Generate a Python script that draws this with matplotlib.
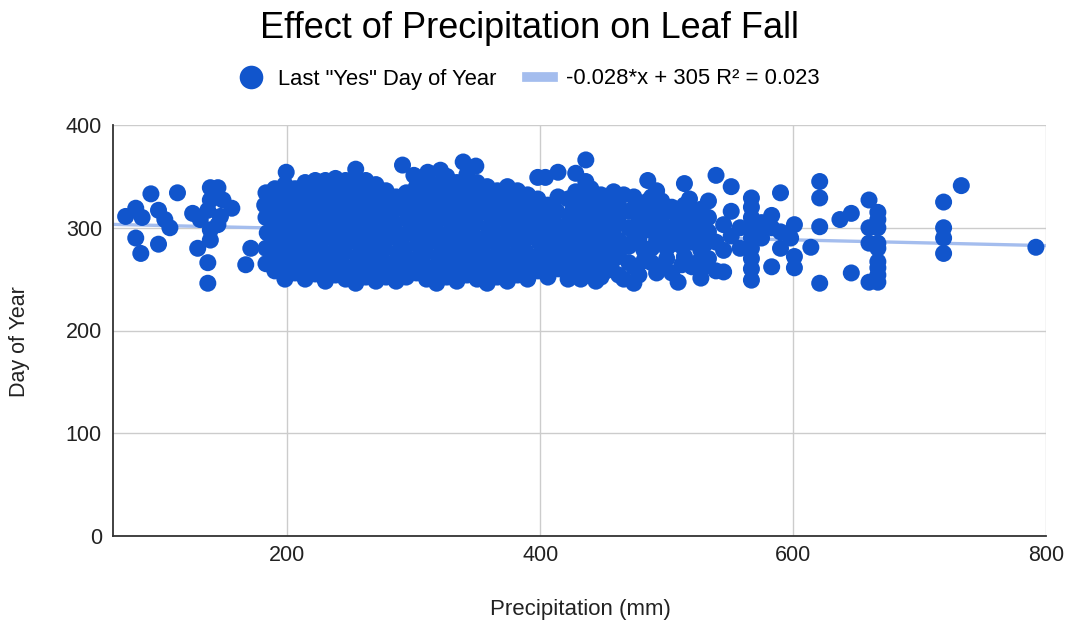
import matplotlib.pyplot as plt
from matplotlib.lines import Line2D

plt.rcParams['font.family'] = ['Liberation Sans', 'DejaVu Sans']

# precipitation (mm) and last "yes" day of year
precip = [
    72, 80, 85, 92, 80, 84, 98, 103, 107, 98, 113,
    125, 139, 145, 156, 137, 131, 139, 145, 139, 129, 137, 137, 167, 171, 139, 149, 147,
    183, 183, 184, 183, 182, 183,
    190, 190, 191, 190, 189, 190, 190,
    198, 198, 197, 198, 198, 199, 198, 198,
    199,
    206, 206, 207, 206, 205, 206, 206,
    214, 214, 213, 214, 214, 215, 214, 214,
    222, 222, 223, 222, 221, 222, 222, 222,
    230, 230, 229, 230, 231, 230, 230, 230,
    238, 238, 239, 238, 237, 238, 238, 238,
    246, 246, 245, 246, 247, 246, 246, 246,
    254, 254, 255, 254, 253, 254, 254, 254, 254,
    262, 262, 261, 262, 263, 262, 262, 262,
    270, 270, 271, 270, 269, 270, 270, 270,
    278, 278, 277, 278, 279, 278, 278,
    286, 286, 287, 286, 285, 286, 286,
    291,
    294, 294, 293, 294, 295, 294, 294,
    300,
    302, 302, 303, 302, 301, 302, 302,
    310, 310, 309, 310, 311, 310, 310, 310,
    311,
    318, 318, 319, 318, 317, 318, 318, 318,
    321,
    326, 326, 325, 326, 327, 326, 326, 326,
    334, 334, 335, 334, 333, 334, 334, 334,
    339,
    342, 342, 341, 342, 343, 342, 342, 342,
    349,
    350, 350, 351, 350, 349, 350, 350, 350,
    358, 358, 357, 358, 359, 358, 358, 358,
    366, 366, 367, 366, 365, 366, 366,
    374, 374, 373, 374, 375, 374, 374, 374,
    382, 382, 383, 382, 381, 382, 382,
    390, 390, 389, 390, 391, 390, 390,
    398, 398, 399, 398, 397, 398, 398,
    404,
    406, 406, 405, 406, 407, 406,
    414, 414, 415, 414, 413, 414, 414,
    422, 422, 421, 422, 423, 422,
    426, 426, 426, 426, 426,
    428, 428,
    432, 432, 432, 432, 432, 432,
    436, 436, 436, 435, 436, 437, 436,
    440, 440, 440, 440, 440, 440,
    444, 444, 443, 444, 445,
    448, 448, 448, 448, 448, 448,
    452, 452, 453, 452, 451,
    456, 456, 456, 456, 456,
    458, 458, 458,
    462, 462, 462, 462, 462,
    466, 466, 466, 466,
    470, 470, 470, 470,
    474, 474, 474, 474,
    478, 478, 478, 478,
    482, 482, 482,
    485, 485, 485,
    488, 488, 488, 488,
    492, 492, 492, 492, 492,
    496, 496, 496, 496,
    500, 500, 500, 500,
    504, 504, 504, 504,
    509, 509, 509,
    512, 512, 512,
    514, 514, 514, 514,
    518, 518, 518,
    520, 520, 520,
    524, 524, 524,
    527, 527, 527,
    530, 530, 530,
    533, 533, 533, 533,
    539, 539, 539,
    545, 545, 545,
    551, 551, 551,
    558, 558,
    567, 567, 567, 567, 567, 567, 567, 567, 567,
    575, 575,
    583, 583, 583,
    590, 590, 590,
    598,
    601, 601, 601,
    614,
    621, 621, 621, 621,
    637,
    646, 646,
    660, 660, 660, 660,
    667, 667, 667, 667, 667, 667, 667, 667, 667,
    719, 719, 719, 719,
    733,
    792,
]
last_day = [
    311, 319, 310, 333, 290, 275, 317, 308, 300, 284, 334,
    314, 339, 339, 319, 317, 308, 298, 303, 288, 280, 266, 246, 264, 280, 327, 327, 311,
    265, 280, 295, 310, 322, 334,
    258, 270, 284, 298, 312, 326, 338,
    250, 262, 276, 290, 304, 318, 332, 342,
    354,
    256, 268, 282, 296, 310, 324, 338,
    250, 262, 276, 290, 304, 318, 332, 344,
    255, 268, 282, 296, 310, 324, 338, 346,
    248, 262, 276, 290, 304, 318, 332, 346,
    254, 268, 282, 296, 310, 324, 338, 348,
    250, 262, 276, 290, 304, 318, 332, 346,
    246, 258, 272, 286, 300, 314, 328, 342, 357,
    252, 266, 280, 294, 308, 322, 336, 346,
    248, 260, 274, 288, 302, 316, 330, 342,
    252, 266, 280, 294, 308, 322, 336,
    248, 262, 276, 290, 304, 318, 330,
    361,
    252, 266, 280, 294, 308, 322, 334,
    351,
    256, 270, 284, 298, 312, 326, 340,
    250, 262, 276, 290, 304, 318, 332, 346,
    354,
    246, 258, 272, 286, 300, 314, 328, 342,
    356,
    252, 266, 280, 294, 308, 322, 336, 350,
    248, 260, 274, 288, 302, 316, 330, 344,
    364,
    254, 268, 282, 296, 310, 324, 338, 352,
    360,
    250, 262, 276, 290, 304, 318, 332, 344,
    246, 258, 272, 286, 300, 314, 328, 340,
    252, 266, 280, 294, 308, 322, 336,
    248, 260, 274, 288, 302, 316, 330, 340,
    254, 268, 282, 296, 310, 324, 336,
    250, 262, 276, 290, 304, 318, 332,
    258, 272, 286, 300, 314, 328, 349,
    349,
    252, 266, 280, 294, 308, 322,
    260, 274, 288, 302, 316, 330, 354,
    250, 266, 280, 296, 312, 328,
    262, 276, 290, 304, 318,
    353, 335,
    250, 268, 284, 300, 314, 328,
    366, 345, 256, 272, 290, 306, 320,
    260, 276, 292, 308, 324, 338,
    248, 264, 282, 298, 314,
    252, 270, 286, 302, 318, 332,
    258, 276, 292, 310, 326,
    262, 280, 296, 312, 328,
    335, 300, 270,
    254, 272, 288, 304, 320,
    332, 250, 284, 316,
    266, 282, 300, 316,
    330, 262, 296, 246,
    254, 288, 306, 322,
    278, 312, 268,
    346, 326, 298,
    266, 280, 314, 330,
    256, 288, 306, 320, 336,
    262, 294, 310, 326,
    270, 300, 316, 280,
    256, 284, 300, 320,
    247, 290, 310,
    264, 282, 306,
    343, 322, 296, 272,
    296, 314, 328,
    262, 286, 304,
    266, 290, 308,
    251, 278, 318,
    284, 300, 262,
    296, 270, 310, 326,
    351, 286, 258,
    257, 278, 303,
    340, 316, 292,
    300, 280,
    329, 320, 310, 300, 290, 280, 270, 260, 249,
    305, 290,
    262, 300, 312,
    334, 296, 280,
    290,
    303, 272, 261,
    281,
    345, 329, 301, 246,
    308,
    314, 256,
    327, 300, 285, 247,
    315, 308, 300, 285, 280, 267, 261, 254, 247,
    325, 300, 290, 275,
    341,
    281,
]
assert len(precip) == len(last_day)

slope = -0.028
intercept = 305
r2 = 0.023

x_ticks = [200, 400, 600, 800]
y_ticks = [0, 100, 200, 300, 400]

point_color = '#1155cc'
trend_color = '#a4bdee'

fig = plt.figure(figsize=(10.69, 6.28), dpi=100)
ax = fig.add_axes([113 / 1069, 92 / 628, 933 / 1069, 411 / 628])

xlim = (62, 800)
ax.plot(xlim, [slope * v + intercept for v in xlim], color=trend_color, lw=2.4, zorder=2)
ax.scatter(precip, last_day, s=150, color=point_color, edgecolors='none', zorder=3)

ax.set_xlim(*xlim)
ax.set_ylim(0, 400)
ax.set_xticks(x_ticks)
ax.set_yticks(y_ticks)
ax.grid(True, color='#cccccc', lw=1, zorder=0)
ax.set_axisbelow(True)
for side in ['top', 'right']:
    ax.spines[side].set_visible(False)
ax.spines['left'].set_color('#333333')
ax.spines['bottom'].set_color('#333333')
ax.spines['left'].set_linewidth(1.3)
ax.spines['bottom'].set_linewidth(1.3)
ax.tick_params(length=0, labelsize=15.5, colors='#222222')
ax.tick_params(axis='x', pad=6.5)
ax.tick_params(axis='y', pad=8)

fig.text(529 / 1069, 1 - 29 / 628, 'Effect of Precipitation on Leaf Fall',
         ha='center', va='center', fontsize=26)
fig.text(580 / 1069, 1 - 610 / 628, 'Precipitation (mm)',
         ha='center', va='center', fontsize=16, color='#222222')
fig.text(20 / 1069, 1 - 342 / 628, 'Day of Year', rotation=90,
         ha='center', va='center', fontsize=15.5, color='#222222')

handles = [
    Line2D([], [], ls='none', marker='o', markersize=17, color=point_color, markeredgewidth=0),
    Line2D([], [], color=trend_color, lw=7),
]
labels = ['Last "Yes" Day of Year', '%.3f*x + %d R² = %.3f' % (slope, intercept, r2)]
fig.legend(handles, labels, loc='center', bbox_to_anchor=(529 / 1069, 1 - 79 / 628),
           ncol=2, frameon=False, fontsize=15.8, handlelength=1.2, handletextpad=0.6,
           columnspacing=1.4)

fig.savefig('out.png', dpi=100)
